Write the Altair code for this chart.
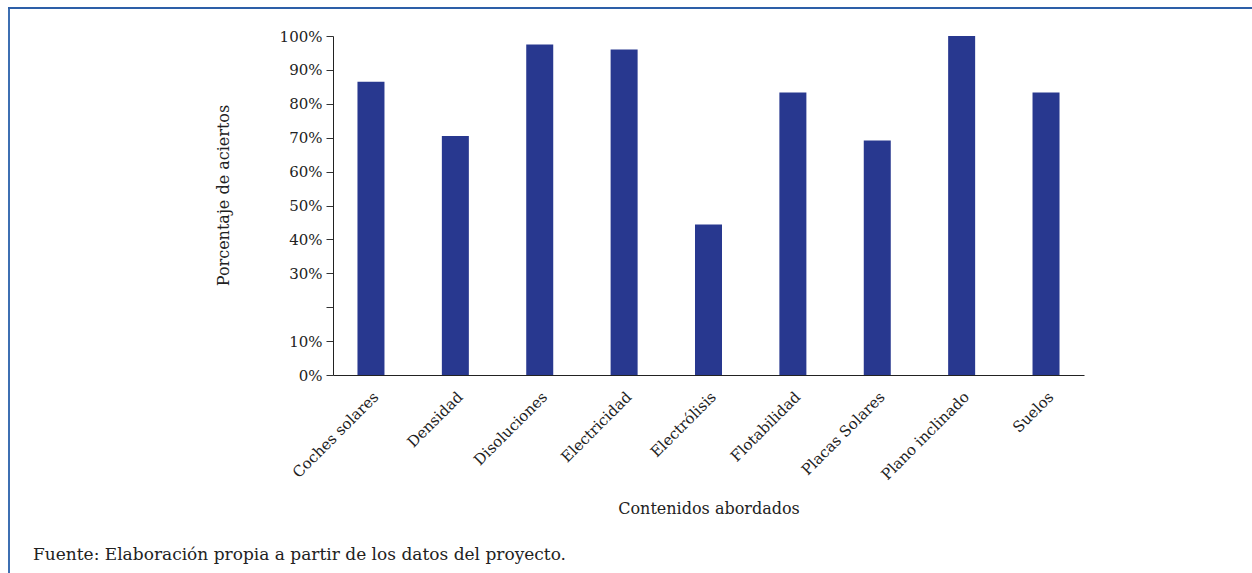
import altair as alt
import pandas as pd

categories = ["Coches solares", "Densidad", "Disoluciones", "Electricidad", "Electrólisis",
              "Flotabilidad", "Placas Solares", "Plano inclinado", "Suelos"]
values = [86.5, 70.5, 97.5, 96.0, 44.4, 83.3, 69.2, 100.0, 83.3]
y_ticks = [0, 10, 20, 30, 40, 50, 60, 70, 80, 90, 100]
source_note = "Fuente: Elaboración propia a partir de los datos del proyecto."

df = pd.DataFrame({"Contenido": categories, "Porcentaje": values})

FONT = "DejaVu Serif"
FS = 15
TFS = 16
W, H = 751, 339
LEFT, TOP = 333, 36

bars = alt.Chart(df).mark_bar(color="#28388f").encode(
    x=alt.X("Contenido:N", sort=categories,
            scale=alt.Scale(paddingInner=0.68, paddingOuter=0.29),
            axis=alt.Axis(title="Contenidos abordados", labelAngle=-45, ticks=False,
                          labelFontSize=FS, titleFontSize=TFS, labelPadding=14,
                          titlePadding=18, domainColor="#222", labelColor="#222",
                          titleColor="#222", titleFontWeight="normal")),
    y=alt.Y("Porcentaje:Q", scale=alt.Scale(domain=[0, 100]),
            axis=alt.Axis(title="Porcentaje de aciertos", values=y_ticks, grid=False,
                          labelExpr="datum.value == 20 ? '' : datum.value + '%'",
                          tickSize=7, tickColor="#333", domainColor="#222",
                          labelFontSize=FS, titleFontSize=TFS, labelPadding=4,
                          titlePadding=48, titleY=159, labelColor="#222", titleColor="#222",
                          titleFontWeight="normal")),
)

frame_data = alt.Data(values=[{"k": 1}])
left_line = alt.Chart(frame_data).mark_rule(color="#3d6fb2", strokeWidth=2).encode(
    x=alt.value(9 - LEFT), y=alt.value(7 - TOP), y2=alt.value(573 - TOP))
top_line = alt.Chart(frame_data).mark_rule(color="#2d5fa8", strokeWidth=2).encode(
    x=alt.value(8 - LEFT), x2=alt.value(1252 - LEFT), y=alt.value(8 - TOP))
note = alt.Chart(alt.Data(values=[{"t": source_note}])).mark_text(
    align="left", baseline="middle", font=FONT, fontSize=17, color="#222").encode(
    x=alt.value(33 - LEFT), y=alt.value(555 - TOP), text="t:N")

chart = alt.layer(bars, left_line, top_line, note).properties(
    width=W, height=H,
    autosize=alt.AutoSizeParams(type="none"),
    padding={"left": LEFT, "top": TOP, "right": 1252 - LEFT - W, "bottom": 573 - TOP - H},
).configure(font=FONT).configure_view(strokeWidth=0, stroke="transparent").configure_axis(
    labelFont=FONT, titleFont=FONT)

chart.save("out.html", embed_options={"renderer": "svg", "actions": False})
